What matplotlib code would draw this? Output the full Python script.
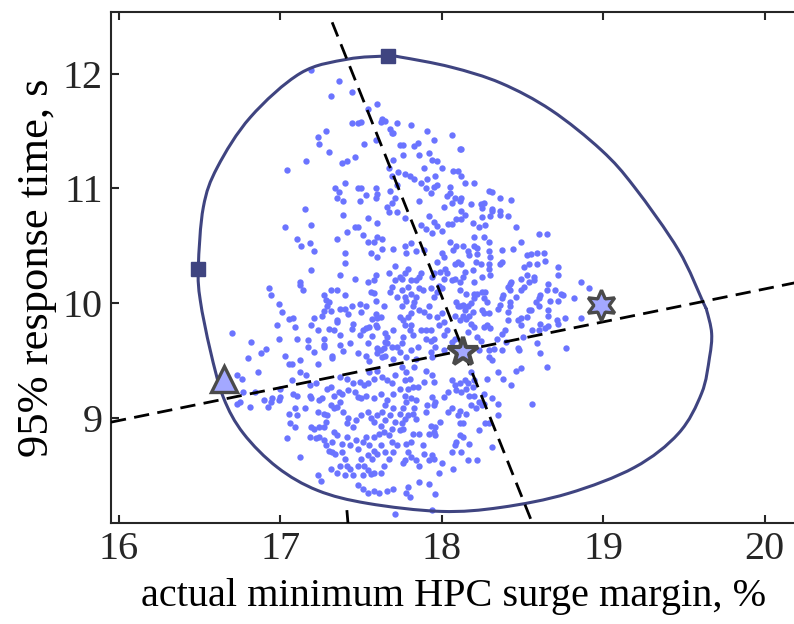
import numpy as np
import matplotlib
matplotlib.use('Agg')
import matplotlib.pyplot as plt
from matplotlib.path import Path
from matplotlib.patches import PathPatch

# closed boundary curve (clockwise from the top)
contour_x = [17.665, 17.745, 18.056, 18.366, 18.677, 18.988, 19.193, 19.466, 19.621, 19.640,
             19.671, 19.658, 19.609, 19.466, 19.193, 18.783, 18.366, 17.994, 17.540, 17.230,
             16.981, 16.770, 16.646, 16.565, 16.503, 16.491, 16.522, 16.609, 16.814, 17.124,
             17.416]
contour_y = [12.155, 12.146, 12.059, 11.919, 11.683, 11.334, 11.011, 10.461, 9.998, 9.937,
             9.736, 9.526, 9.212, 8.862, 8.565, 8.338, 8.216, 8.181, 8.251, 8.364,
             8.565, 8.862, 9.176, 9.587, 10.024, 10.312, 10.836, 11.185, 11.622, 12.006,
             12.128]

# dashed axis lines
steep_x = [17.32, 18.56]
steep_y = [12.45, 8.08]
shallow_x = [15.95, 20.2]
shallow_y = [8.96, 10.18]
stub_x = [17.418, 17.412]
stub_y = [8.08, 8.18]

# special points
square_x = [17.665, 16.49]
square_y = [12.155, 10.30]
tri_x, tri_y = 16.652, 9.338
center_x, center_y = 18.13, 9.575
hex_x, hex_y = 18.988, 9.98

pts_top_left = [
    (17.19, 12.03), (17.36, 11.94), (17.31, 11.81), (17.44, 11.84), (17.60, 11.74), (17.54, 11.69),
    (17.63, 11.61), (17.65, 11.59), (17.62, 11.58), (17.72, 11.57), (17.44, 11.57), (17.48, 11.57),
    (17.50, 11.58), (17.28, 11.50), (17.23, 11.45), (17.24, 11.39), (17.52, 11.39), (17.59, 11.42),
    (17.68, 11.52), (17.69, 11.48), (17.70, 11.48), (17.74, 11.38), (17.30, 11.32), (17.16, 11.24),
    (17.04, 11.16), (17.38, 11.22), (17.41, 11.24), (17.46, 11.27), (17.70, 11.25), (17.67, 11.18),
    (17.73, 11.14), (17.69, 11.11), (17.40, 11.05), (17.34, 11.00), (17.36, 10.97), (17.35, 10.92),
    (17.39, 10.89), (17.48, 11.00), (17.50, 11.00), (17.49, 10.89), (17.59, 11.00), (17.60, 10.95),
    (17.59, 10.92), (17.68, 10.98), (17.71, 10.92), (17.69, 10.87), (17.66, 10.84), (17.72, 11.03),
    (17.15, 10.82), (17.53, 10.94)]

pts_top_right = [
    (17.81, 11.55), (17.91, 11.50), (18.06, 11.47), (17.95, 11.42), (17.76, 11.38), (17.83, 11.37),
    (17.85, 11.40), (18.11, 11.34), (18.12, 11.34), (17.86, 11.29), (17.92, 11.31), (17.94, 11.25),
    (17.97, 11.24), (17.76, 11.29), (17.89, 11.18), (18.00, 11.18), (17.77, 11.13), (17.80, 11.11),
    (17.83, 11.08), (17.87, 11.05), (17.91, 11.08), (17.96, 11.11), (18.07, 11.15), (18.10, 11.15),
    (18.12, 11.11), (18.14, 11.05), (18.20, 11.05), (17.95, 11.01), (17.97, 11.03), (17.90, 11.00),
    (17.93, 10.96), (18.05, 11.01), (17.86, 10.89), (18.03, 10.93), (18.05, 10.96), (18.08, 10.92),
    (18.06, 10.87), (18.12, 10.92), (18.11, 10.89), (18.18, 10.86), (18.29, 10.98), (18.31, 10.97),
    (18.36, 10.92), (18.43, 10.90), (18.24, 10.86), (18.26, 10.87), (18.01, 10.84), (18.25, 10.83),
    (18.31, 10.82)]

pts_mid_left = [
    (17.39, 10.77), (17.54, 10.74), (17.67, 10.79), (17.72, 10.79), (17.60, 10.70), (17.03, 10.66),
    (17.19, 10.68), (17.46, 10.66), (17.48, 10.66), (17.41, 10.62), (17.51, 10.59), (17.60, 10.58),
    (17.63, 10.56), (17.10, 10.56), (17.13, 10.50), (17.18, 10.52), (17.21, 10.45), (17.35, 10.56),
    (17.54, 10.53), (17.58, 10.53), (17.63, 10.47), (17.70, 10.47), (17.56, 10.44), (17.40, 10.44),
    (17.60, 10.40), (17.40, 10.35), (17.71, 10.32), (17.19, 10.29), (17.37, 10.24), (17.46, 10.21),
    (17.54, 10.18), (17.58, 10.20), (17.59, 10.24), (17.67, 10.26), (17.71, 10.20), (17.74, 10.23),
    (17.12, 10.18), (17.12, 10.16), (16.93, 10.13), (16.94, 10.07), (17.14, 10.11), (17.31, 10.11),
    (17.35, 10.11), (17.27, 10.07), (17.28, 10.03), (17.40, 10.07), (17.56, 10.10), (17.58, 10.09),
    (17.69, 10.14), (17.68, 10.10), (17.72, 10.05), (17.59, 10.02), (16.99, 9.99), (17.30, 10.01),
    (17.29, 9.97), (17.49, 9.99), (17.53, 9.97), (17.64, 9.97), (17.37, 9.95), (17.40, 9.95),
    (17.44, 9.97), (17.01, 9.92), (17.27, 9.93), (17.26, 9.89), (17.31, 9.93), (17.42, 9.90),
    (17.50, 9.92), (17.59, 9.90), (17.60, 9.87), (17.62, 9.88), (17.57, 9.86), (17.74, 9.88),
    (17.05, 9.86), (17.08, 9.87), (17.21, 9.87), (17.35, 9.85), (17.35, 9.83), (16.98, 9.81),
    (17.09, 9.79), (17.19, 9.81), (17.45, 9.82), (17.59, 9.81), (17.60, 9.79), (17.23, 9.76),
    (17.30, 9.77), (17.33, 9.76), (17.37, 9.72), (17.44, 9.77), (17.51, 9.76), (17.53, 9.78),
    (17.55, 9.79), (17.49, 9.72), (17.57, 9.71), (17.65, 9.74), (17.66, 9.70), (17.70, 9.76),
    (16.70, 9.74), (16.82, 9.66), (16.99, 9.69), (17.10, 9.69), (17.17, 9.68), (17.27, 9.69),
    (17.65, 9.66), (17.66, 9.65), (16.91, 9.60), (16.88, 9.56), (16.80, 9.52), (17.17, 9.62),
    (17.27, 9.63), (17.27, 9.62), (17.37, 9.63), (17.43, 9.65), (17.54, 9.65), (17.60, 9.61),
    (17.62, 9.59), (17.64, 9.61), (17.69, 9.62), (17.72, 9.62), (17.21, 9.57), (17.03, 9.54),
    (17.12, 9.50), (17.32, 9.54), (17.32, 9.52), (17.39, 9.58), (17.48, 9.56), (17.53, 9.54),
    (17.55, 9.49), (17.60, 9.56), (17.63, 9.53), (17.65, 9.54), (17.70, 9.51), (17.05, 9.47),
    (17.07, 9.47), (17.23, 9.47), (17.74, 9.57)]

pts_mid_right = [
    (17.77, 10.74), (17.92, 10.76), (17.87, 10.68), (17.90, 10.65), (17.94, 10.61), (17.95, 10.71),
    (17.97, 10.67), (18.04, 10.69), (18.06, 10.69), (18.09, 10.73), (18.12, 10.73), (18.12, 10.80),
    (18.14, 10.77), (18.19, 10.70), (18.25, 10.75), (18.30, 10.76), (18.36, 10.77), (18.36, 10.80),
    (18.31, 10.80), (18.41, 10.76), (18.23, 10.66), (18.27, 10.68), (18.46, 10.66), (18.00, 10.63),
    (18.60, 10.60), (18.65, 10.60), (18.20, 10.58), (18.26, 10.58), (18.29, 10.53), (18.05, 10.53),
    (18.09, 10.50), (18.13, 10.50), (18.20, 10.50), (18.22, 10.48), (18.22, 10.43), (18.49, 10.53),
    (17.77, 10.50), (17.78, 10.44), (17.81, 10.52), (17.84, 10.45), (17.89, 10.46), (18.00, 10.44),
    (18.01, 10.40), (17.97, 10.36), (18.07, 10.46), (18.16, 10.45), (18.17, 10.42), (18.29, 10.45),
    (18.30, 10.40), (18.29, 10.34), (18.37, 10.46), (18.37, 10.36), (18.36, 10.34), (18.44, 10.47),
    (18.53, 10.42), (18.55, 10.43), (18.59, 10.44), (18.63, 10.44), (18.54, 10.34), (18.59, 10.34),
    (18.64, 10.37), (18.51, 10.31), (18.57, 10.23), (18.57, 10.20), (18.49, 10.21), (18.43, 10.18),
    (18.41, 10.14), (18.72, 10.31), (18.65, 10.11), (18.66, 10.17), (18.61, 10.07), (18.60, 10.04),
    (18.58, 10.01), (18.72, 10.24), (18.74, 10.08), (18.75, 10.07), (18.86, 10.18), (18.91, 10.13),
    (18.82, 10.04), (18.86, 9.87), (18.76, 9.87), (18.71, 9.85), (18.72, 9.82), (18.66, 9.94),
    (18.66, 9.89), (18.60, 9.97), (18.61, 9.82), (18.66, 9.80), (18.64, 9.78), (18.60, 9.76),
    (18.54, 9.94), (18.55, 9.94), (18.53, 9.88), (18.49, 9.87), (18.47, 9.85), (18.49, 9.81),
    (18.56, 9.76), (18.50, 9.70), (18.47, 9.61), (18.48, 9.59), (18.59, 9.65), (18.61, 9.56),
    (18.77, 9.61), (18.41, 9.92), (18.41, 9.85), (18.42, 9.97), (18.37, 10.04), (18.38, 10.07),
    (18.42, 10.11), (18.42, 10.17), (18.35, 9.95), (18.36, 9.98), (18.39, 9.76), (18.37, 9.73),
    (18.34, 9.69), (18.26, 9.79), (18.28, 9.81), (18.30, 9.78), (18.25, 9.94), (18.26, 9.91),
    (18.29, 9.91), (18.28, 10.01), (18.26, 10.04), (18.25, 10.10), (18.27, 10.10), (18.20, 10.08),
    (18.22, 10.08), (18.20, 10.04), (18.15, 10.08), (18.18, 10.00), (18.16, 9.97), (18.19, 9.92),
    (18.13, 9.98), (18.14, 9.94), (18.10, 9.97), (18.11, 10.11), (18.11, 10.18), (18.08, 10.21),
    (18.06, 10.20), (18.13, 10.23), (18.14, 10.27), (18.19, 10.29), (18.20, 10.18), (18.25, 10.23),
    (18.30, 10.24), (18.29, 10.30), (18.24, 10.34), (18.21, 10.36), (18.08, 10.34), (18.10, 10.36),
    (18.12, 10.34), (18.02, 10.30), (18.03, 10.26), (18.01, 10.21), (17.99, 10.27), (17.95, 10.26),
    (17.94, 10.23), (17.98, 10.15), (18.00, 10.13), (17.97, 10.10), (17.87, 10.26), (17.86, 10.23),
    (17.84, 10.20), (17.79, 10.30), (17.77, 10.26), (17.75, 10.21), (17.81, 10.20), (17.79, 10.14),
    (17.75, 10.11), (17.86, 10.13), (17.88, 10.11), (17.84, 10.05), (17.81, 10.08), (17.93, 10.13),
    (17.95, 10.05), (17.77, 10.05), (17.78, 10.02), (17.75, 9.97), (17.83, 10.01), (17.82, 9.97),
    (17.86, 9.94), (17.92, 9.97), (17.89, 9.92), (17.92, 9.89), (17.81, 9.91), (17.79, 9.88),
    (17.76, 9.85), (17.77, 9.81), (17.81, 9.81), (17.80, 9.76), (17.82, 9.72), (17.87, 9.76),
    (17.90, 9.76), (17.93, 9.76), (17.90, 9.69), (17.93, 9.67), (17.95, 9.69), (17.97, 9.88),
    (18.00, 9.91), (18.01, 9.83), (17.98, 9.81), (18.03, 9.76), (18.01, 9.72), (18.06, 9.66),
    (18.08, 9.69), (18.09, 10.01), (18.11, 9.97), (18.08, 9.89), (18.13, 9.89), (18.15, 9.86),
    (18.17, 9.89), (18.11, 9.85), (18.18, 9.82), (18.20, 9.79), (18.16, 9.75), (18.22, 9.70),
    (18.24, 9.67), (18.23, 9.59), (18.29, 9.59), (18.32, 9.60), (18.29, 9.53), (18.31, 9.50),
    (18.40, 9.66), (18.37, 9.59), (17.85, 9.62), (17.81, 9.59), (17.78, 9.53), (17.84, 9.51),
    (17.93, 9.57), (17.94, 9.53), (17.96, 9.62), (18.01, 9.59), (17.75, 9.65), (17.76, 9.70),
    (18.42, 10.01), (18.46, 10.05), (18.49, 10.11), (18.51, 10.14), (18.54, 10.18), (18.53, 10.24),
    (18.70, 10.11), (18.67, 10.02), (18.72, 10.02)]

pts_low_left = [
    (16.86, 9.40), (16.73, 9.37), (16.76, 9.34), (16.77, 9.22), (16.90, 9.15), (16.94, 9.14),
    (16.95, 9.17), (16.81, 9.09), (16.75, 9.14), (16.73, 9.12), (16.92, 9.09), (16.84, 9.22),
    (17.00, 9.25), (17.00, 9.18), (16.99, 9.15), (17.07, 9.33), (17.08, 9.21), (17.10, 9.19),
    (17.09, 9.08), (17.10, 9.02), (17.05, 9.03), (17.06, 8.95), (17.09, 8.92), (17.04, 8.82),
    (17.12, 8.66), (17.15, 9.08), (17.18, 9.19), (17.19, 9.17), (17.12, 9.40), (17.16, 9.37),
    (17.18, 9.28), (17.22, 9.30), (17.24, 9.15), (17.26, 9.17), (17.19, 8.92), (17.21, 8.90),
    (17.24, 8.92), (17.23, 9.05), (17.27, 9.03), (17.29, 9.02), (17.28, 8.96), (17.27, 8.92),
    (17.18, 8.83), (17.22, 8.82), (17.24, 8.83), (17.27, 8.80), (17.28, 8.76), (17.30, 8.71),
    (17.32, 8.70), (17.23, 8.50), (17.25, 8.45), (17.31, 8.55), (17.35, 8.52), (17.34, 8.68),
    (17.38, 8.70), (17.40, 8.64), (17.37, 8.58), (17.41, 8.58), (17.43, 8.55), (17.40, 8.50),
    (17.45, 8.50), (17.31, 9.11), (17.33, 9.08), (17.35, 9.09), (17.37, 9.14), (17.33, 9.19),
    (17.36, 9.22), (17.38, 9.21), (17.29, 9.25), (17.31, 9.27), (17.37, 9.35), (17.41, 9.34),
    (17.42, 9.24), (17.46, 9.22), (17.48, 9.18), (17.50, 9.17), (17.45, 9.30), (17.49, 9.31),
    (17.52, 9.28), (17.54, 9.30), (17.55, 9.40), (17.60, 9.41), (17.58, 9.34), (17.63, 9.35),
    (17.66, 9.33), (17.69, 9.30), (17.71, 9.37), (17.74, 9.25), (17.70, 9.21), (17.53, 9.19),
    (17.58, 9.17), (17.62, 9.21), (17.66, 9.15), (17.39, 9.05), (17.42, 9.00), (17.41, 8.95),
    (17.45, 8.92), (17.47, 8.98), (17.50, 9.02), (17.54, 9.05), (17.56, 9.00), (17.58, 8.96),
    (17.60, 9.02), (17.63, 9.05), (17.65, 8.98), (17.68, 9.02), (17.70, 9.08), (17.74, 9.03),
    (17.71, 8.96), (17.69, 8.90), (17.74, 8.89), (17.33, 8.87), (17.35, 8.85), (17.32, 8.79),
    (17.38, 8.77), (17.41, 8.83), (17.43, 8.76), (17.47, 8.80), (17.48, 8.73), (17.51, 8.79),
    (17.53, 8.83), (17.55, 8.76), (17.58, 8.71), (17.54, 8.67), (17.57, 8.64), (17.60, 8.68),
    (17.62, 8.76), (17.65, 8.70), (17.50, 8.64), (17.48, 8.58), (17.52, 8.58), (17.54, 8.54),
    (17.51, 8.50), (17.56, 8.51), (17.58, 8.52), (17.62, 8.52), (17.64, 8.58), (17.67, 8.64),
    (17.70, 8.70), (17.72, 8.76), (17.69, 8.79), (17.48, 8.41), (17.51, 8.38), (17.54, 8.34),
    (17.58, 8.36), (17.61, 8.34), (17.66, 8.36), (17.70, 8.38), (17.71, 8.16), (17.58, 8.83),
    (17.61, 8.86), (17.64, 8.87), (17.67, 8.85), (17.65, 9.11), (17.62, 8.93)]

pts_low_right = [
    (17.75, 9.44), (17.78, 9.40), (17.83, 9.44), (17.90, 9.41), (17.94, 9.37), (17.77, 9.33),
    (17.80, 9.34), (17.82, 9.27), (17.79, 9.25), (17.85, 9.27), (17.89, 9.31), (17.77, 9.19),
    (17.78, 9.14), (17.76, 9.08), (17.81, 9.17), (17.84, 9.15), (17.83, 9.08), (17.95, 9.31),
    (17.94, 9.18), (17.96, 9.14), (18.01, 9.18), (18.04, 9.22), (18.06, 9.33), (18.08, 9.28),
    (18.11, 9.30), (18.14, 9.33), (18.15, 9.25), (18.12, 9.22), (18.09, 9.24), (18.18, 9.40),
    (18.19, 9.27), (18.20, 9.19), (18.17, 9.19), (18.18, 9.11), (18.21, 9.08), (18.28, 9.34),
    (18.35, 9.40), (18.38, 9.34), (18.43, 9.28), (18.46, 9.41), (18.49, 9.43), (18.65, 9.44),
    (18.26, 9.21), (18.31, 9.17), (18.35, 9.12), (18.26, 9.12), (18.56, 9.12), (18.35, 9.02),
    (18.29, 8.95), (18.27, 8.95), (18.23, 8.89), (18.31, 8.74), (18.22, 8.63), (18.16, 8.63),
    (18.12, 8.70), (18.17, 8.77), (18.13, 8.83), (18.11, 8.85), (18.09, 8.79), (18.08, 8.76),
    (18.06, 8.70), (18.07, 8.55), (18.00, 8.60), (17.98, 8.52), (18.11, 8.95), (18.13, 8.95),
    (18.10, 9.02), (18.15, 9.03), (18.11, 9.06), (18.06, 9.08), (18.04, 9.05), (17.96, 8.92),
    (17.95, 8.87), (17.92, 8.86), (17.96, 8.85), (17.93, 8.93), (17.99, 8.96), (17.86, 8.86),
    (17.88, 8.76), (17.82, 8.86), (17.81, 8.79), (17.78, 8.77), (17.79, 8.70), (17.81, 8.66),
    (17.84, 8.63), (17.86, 8.58), (17.77, 8.63), (17.76, 8.60), (17.89, 8.68), (17.94, 8.67),
    (17.92, 8.63), (17.95, 8.64), (17.86, 8.44), (17.92, 8.42), (17.79, 8.39), (17.78, 8.34),
    (17.80, 8.31), (17.96, 8.33), (17.94, 8.19), (17.77, 8.99), (17.79, 9.02), (17.82, 9.03),
    (17.84, 8.99), (17.75, 8.95), (17.76, 8.90), (17.90, 9.05), (17.91, 9.11), (17.95, 9.11),
    (18.20, 9.33), (18.16, 9.30), (18.23, 9.14), (18.25, 9.11)]

plt.rcParams['font.family'] = ['Liberation Serif', 'DejaVu Serif']

samples = np.array(pts_top_left + pts_top_right + pts_mid_left + pts_mid_right
                   + pts_low_left + pts_low_right)

fig = plt.figure(figsize=(7.94, 6.24), dpi=100)
ax = fig.add_axes([0.1398, 0.1619, 0.8640, 0.8189])

ax.scatter(samples[:, 0], samples[:, 1], s=21, color='#6b74ff', linewidths=0, zorder=2)

# boundary drawn as a smooth closed bezier path through the traced points
P = np.column_stack([contour_x, contour_y])
n = len(P)
verts = [P[0]]
codes = [Path.MOVETO]
for i in range(n):
    p0, p1, p2, p3 = P[i - 1], P[i], P[(i + 1) % n], P[(i + 2) % n]
    verts += [p1 + (p2 - p0) / 6, p2 - (p3 - p1) / 6, p2]
    codes += [Path.CURVE4] * 3
ax.add_patch(PathPatch(Path(verts, codes), fill=False, edgecolor='#3f4480', lw=2.2, zorder=3))

dash = dict(color='black', lw=2.0, dashes=(5.5, 3.0), zorder=4)
ax.plot(steep_x, steep_y, **dash)
ax.plot(shallow_x, shallow_y, **dash)
ax.plot(stub_x, stub_y, color='black', lw=2.0, zorder=4)

ax.plot(square_x, square_y, 's', ms=10.5, color='#3f4480', zorder=5)
ax.plot(tri_x, tri_y, '^', ms=19, mfc='#a3a8ff', mec='#4a4a4a', mew=2.4, zorder=5)
ax.plot(center_x, center_y, '*', ms=22, mfc='#a3a8ff', mec='#4a4a4a', mew=3.0, zorder=5)
ax.plot(hex_x, hex_y, marker=(6, 1, 0), ms=22, mfc='#a3a8ff', mec='#4a4a4a', mew=2.4,
        linestyle='none', zorder=5)

ax.set_xlim(15.95, 20.2)
ax.set_ylim(8.08, 12.54)
ax.set_xticks([16, 17, 18, 19, 20])
ax.set_yticks([9, 10, 11, 12])
ax.tick_params(direction='in', top=True, right=False, length=6, width=1.5,
               labelsize=29, pad=6, colors='#262626')
for sp in ax.spines.values():
    sp.set_linewidth(1.5)
    sp.set_color('#262626')
ax.spines['right'].set_visible(False)

ax.set_xlabel('actual minimum HPC surge margin, %', fontsize=29, labelpad=7)
ax.set_ylabel('95% response time, s', fontsize=32, labelpad=4)

fig.savefig('out.png', dpi=100)
